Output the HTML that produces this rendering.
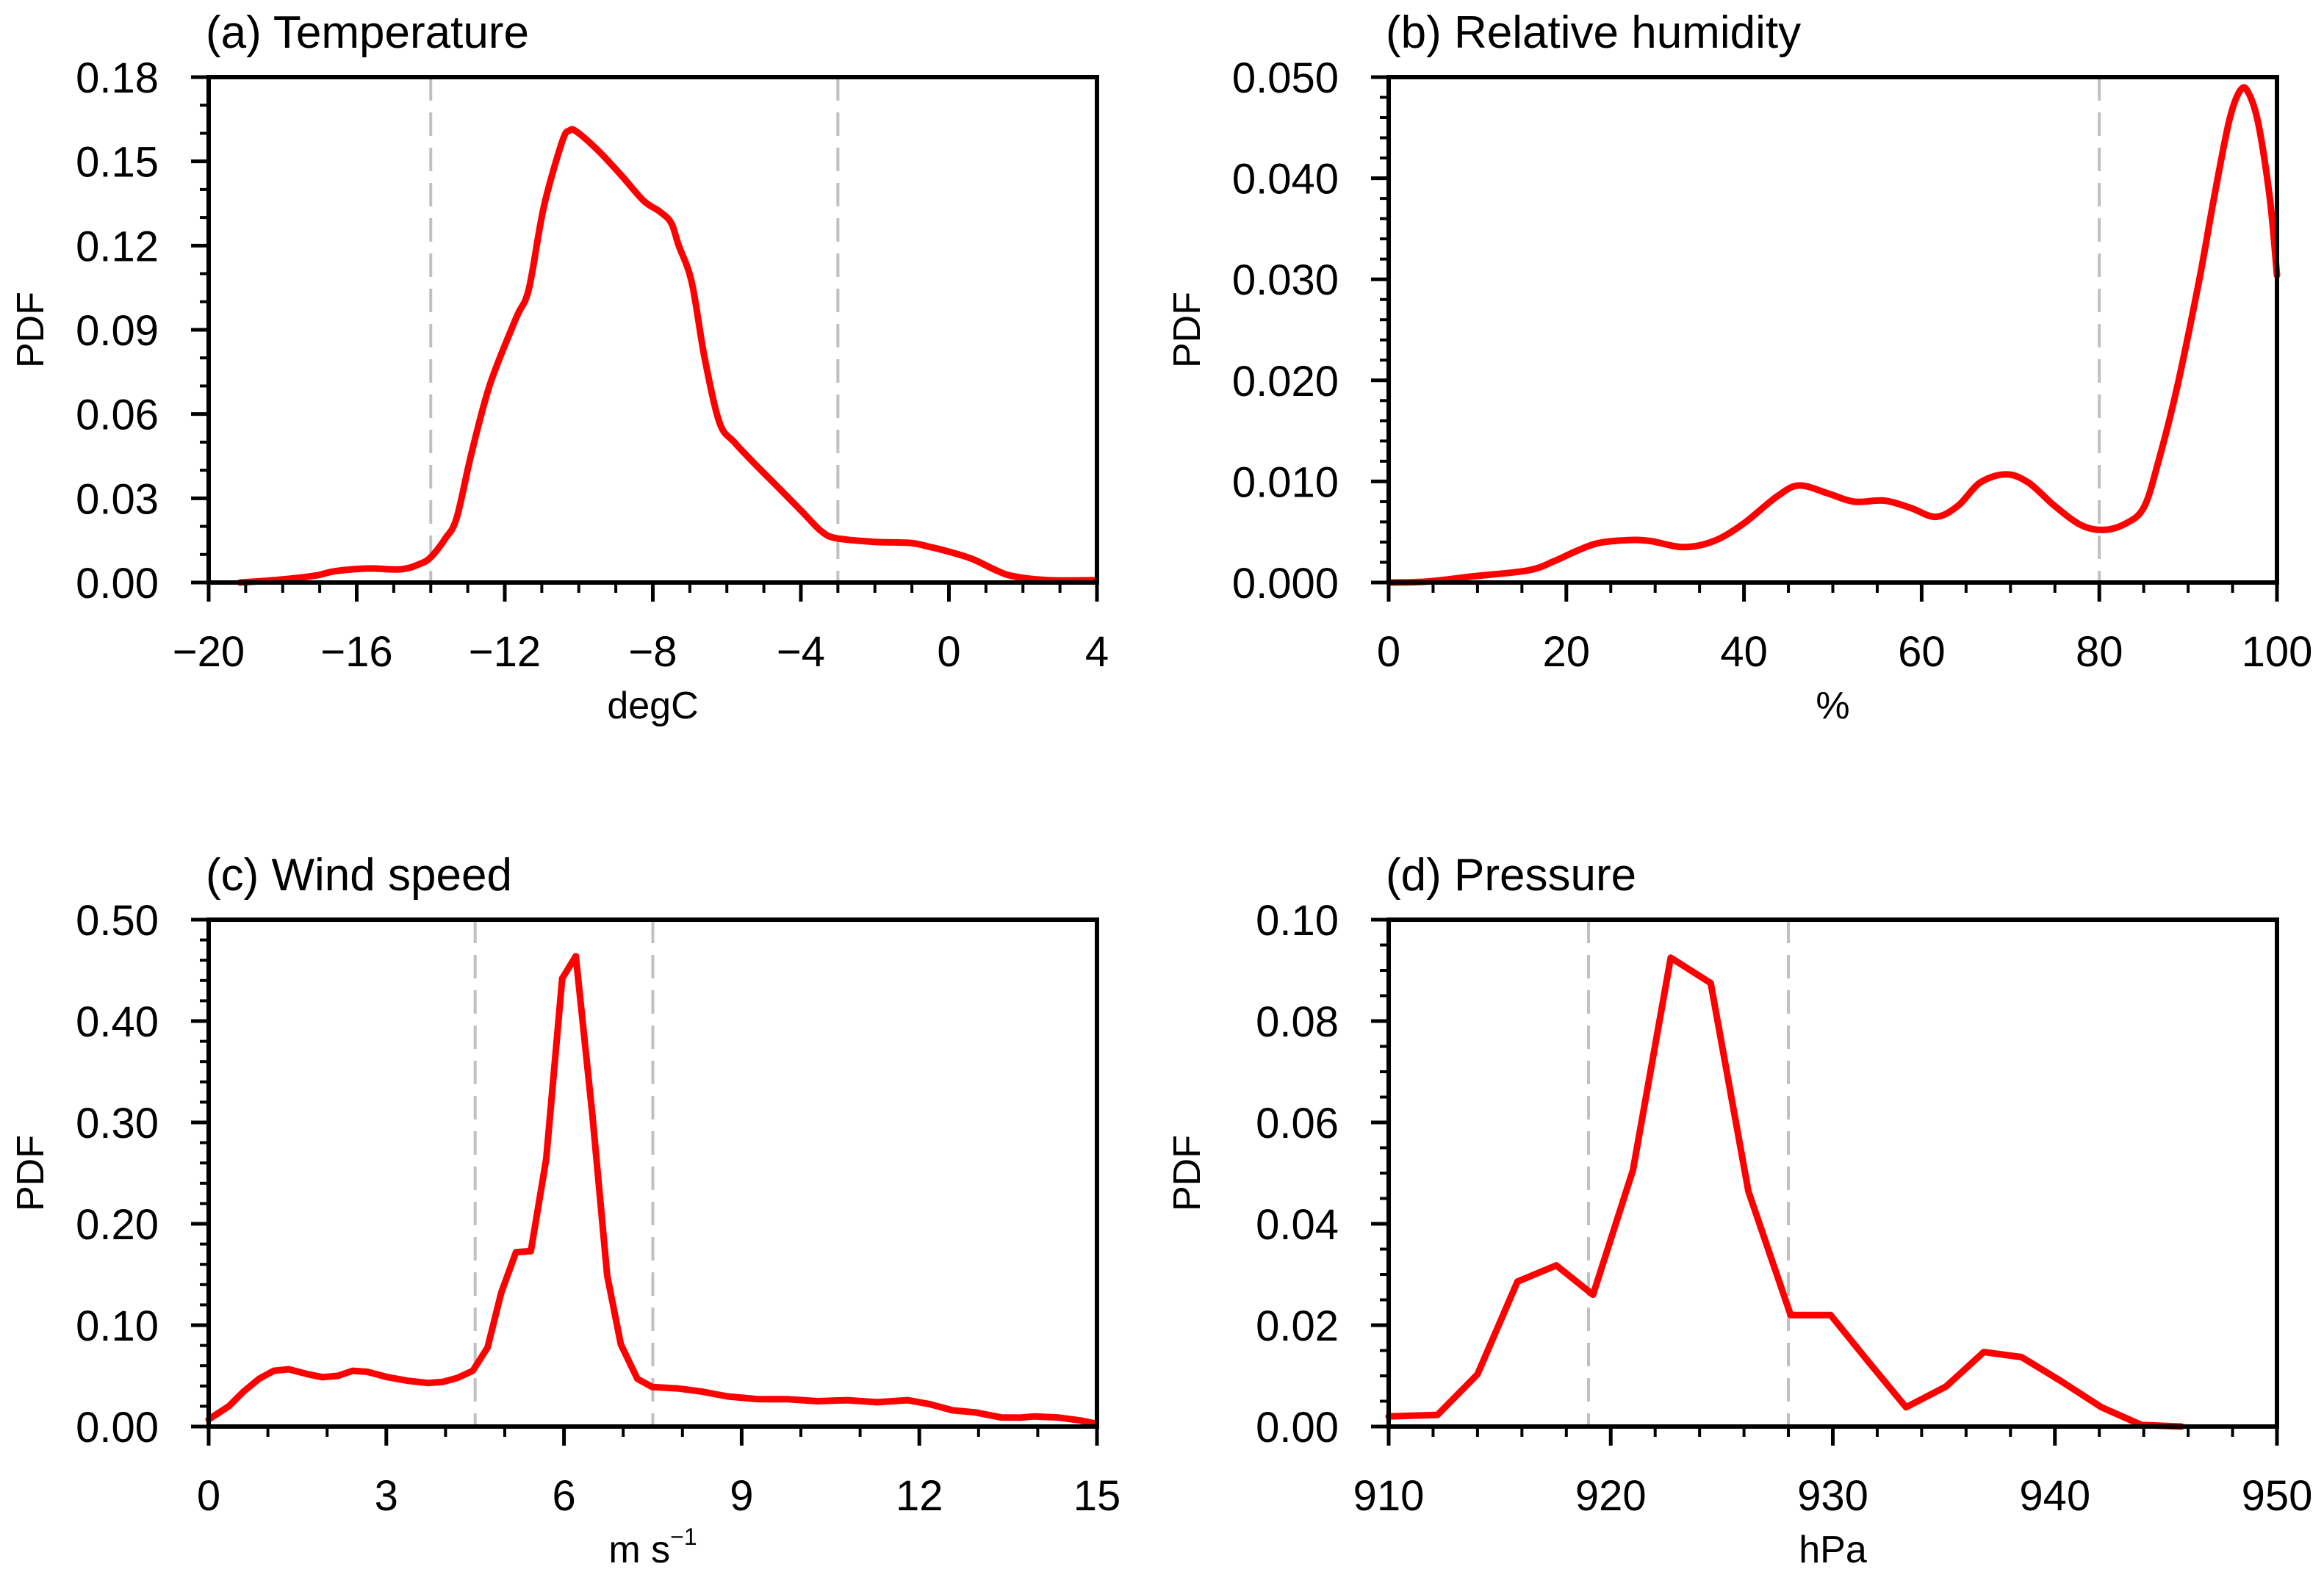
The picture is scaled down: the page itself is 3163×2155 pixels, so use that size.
<!DOCTYPE html>
<html><head><meta charset="utf-8"><title>PDF panels</title>
<style>html,body{margin:0;padding:0;background:#fff;}svg{display:block;font-family:"Liberation Sans",Arial,sans-serif;}</style>
</head><body>
<svg id="fig" width="3163" height="2155" viewBox="0 0 3163 2155" xmlns="http://www.w3.org/2000/svg"></svg>
<script>
// Panel (a) Temperature
const tempX = [-19.15,-18.1,-17.1,-16.6,-15.7,-14.8,-14.3,-14.0,-13.6,-13.3,-12.9,-12.4,-11.7,-11.35,-10.95,-10.45,-10.25,-10.05,-9.45,-8.85,-8.25,-7.8,-7.5,-7.3,-6.95,-6.6,-6.2,-5.8,-5.3,-4.5,-3.95,-3.45,-3.05,-2.05,-1.05,-0.55,0.05,0.65,1.25,1.75,2.7,3.9];
const tempY = [0,0.001,0.0025,0.004,0.005,0.0047,0.0066,0.009,0.0158,0.023,0.046,0.0705,0.094,0.1045,0.1335,0.157,0.161,0.1605,0.1535,0.145,0.136,0.132,0.128,0.120,0.107,0.080,0.057,0.050,0.043,0.0324,0.025,0.0183,0.0158,0.0145,0.0141,0.0128,0.0108,0.0083,0.0045,0.0022,0.0008,0.0008];
const tempXTicks = [-20,-16,-12,-8,-4,0,4];
const tempXTickLabels = ["\u221220","\u221216","\u221212","\u22128","\u22124","0","4"];
const tempYTicks = [0,0.03,0.06,0.09,0.12,0.15,0.18];
const tempYTickLabels = ["0.00","0.03","0.06","0.09","0.12","0.15","0.18"];
const tempRefs = [-14,-3];
// Panel (b) Relative humidity
const rhX = [0.25,4.4,9.4,15.7,18.6,21.1,23.6,27,29.5,33.2,36.6,39.9,43.7,46.2,49.5,52.4,55.8,58.7,61.6,64.1,66.6,69.5,72,74.95,77.9,80.4,82.9,85,86.6,88.7,91.2,92.9,94.6,95.8,96.7,97.9,99.2,100];
const rhY = [0,0.0001,0.0006,0.0012,0.0021,0.0031,0.0039,0.0042,0.0041,0.0035,0.0041,0.0058,0.0085,0.0096,0.0088,0.008,0.0081,0.0074,0.0065,0.0076,0.0099,0.0107,0.0099,0.0076,0.0057,0.0052,0.0058,0.0074,0.0118,0.0191,0.0297,0.038,0.0456,0.0486,0.0486,0.0454,0.038,0.0304];
const rhXTicks = [0,20,40,60,80,100];
const rhXTickLabels = ["0","20","40","60","80","100"];
const rhYTicks = [0,0.01,0.02,0.03,0.04,0.05];
const rhYTickLabels = ["0.000","0.010","0.020","0.030","0.040","0.050"];
const rhRefs = [80];
// Panel (c) Wind speed
const wsX = [0,0.34,0.59,0.85,1.1,1.35,1.67,1.92,2.18,2.43,2.68,3.0,3.38,3.7,3.95,4.2,4.46,4.71,4.94,5.19,5.44,5.7,5.97,6.2,6.48,6.73,6.96,7.24,7.49,7.94,8.32,8.76,9.27,9.77,10.28,10.78,11.29,11.8,12.18,12.56,12.94,13.38,13.7,13.95,14.33,14.72,14.97];
const wsY = [0.007,0.02,0.0346,0.047,0.055,0.0565,0.0517,0.0487,0.050,0.055,0.054,0.049,0.045,0.043,0.044,0.048,0.055,0.078,0.132,0.172,0.173,0.264,0.442,0.464,0.307,0.149,0.081,0.047,0.039,0.0375,0.0346,0.0297,0.027,0.027,0.025,0.026,0.024,0.026,0.022,0.016,0.014,0.009,0.0088,0.010,0.009,0.006,0.003];
const wsXTicks = [0,3,6,9,12,15];
const wsXTickLabels = ["0","3","6","9","12","15"];
const wsYTicks = [0,0.1,0.2,0.3,0.4,0.5];
const wsYTickLabels = ["0.00","0.10","0.20","0.30","0.40","0.50"];
const wsRefs = [4.5,7.5];
// Panel (d) Pressure
const pX = [910,912.2,914,915.8,917.55,919.2,921.0,922.7,924.5,926.2,928.1,929.9,931.6,933.3,935.1,936.8,938.5,940.3,942.1,943.9,945.7];
const pY = [0.002,0.0023,0.0103,0.0286,0.0318,0.026,0.0506,0.0925,0.0875,0.0464,0.022,0.022,0.0128,0.0038,0.0079,0.0147,0.0137,0.0089,0.0038,0.0003,0];
const pXTicks = [910,920,930,940,950];
const pXTickLabels = ["910","920","930","940","950"];
const pYTicks = [0,0.02,0.04,0.06,0.08,0.1];
const pYTickLabels = ["0.00","0.02","0.04","0.06","0.08","0.10"];
const pRefs = [919,928];

const NS = "http://www.w3.org/2000/svg";
const svg = document.getElementById("fig");
function mk(tag, attrs, parent){
  const e = document.createElementNS(NS, tag);
  for (const k in attrs) e.setAttribute(k, attrs[k]);
  (parent||svg).appendChild(e);
  return e;
}
function smoothPath(pts){
  let d = "M"+pts[0][0].toFixed(1)+","+pts[0][1].toFixed(1);
  for (let i=0;i<pts.length-1;i++){
    const p0=pts[Math.max(0,i-1)],p1=pts[i],p2=pts[i+1],p3=pts[Math.min(pts.length-1,i+2)];
    const c1x=p1[0]+(p2[0]-p0[0])/6,c1y=p1[1]+(p2[1]-p0[1])/6;
    const c2x=p2[0]-(p3[0]-p1[0])/6,c2y=p2[1]-(p3[1]-p1[1])/6;
    d+=` C${c1x.toFixed(1)},${c1y.toFixed(1)} ${c2x.toFixed(1)},${c2y.toFixed(1)} ${p2[0].toFixed(1)},${p2[1].toFixed(1)}`;
  }
  return d;
}
function panel(cfg){
  const g = mk("g", {});
  
  
  const L=cfg.L,R=cfg.R,T=cfg.T,B=cfg.B;
  const xs = v => L + (v-cfg.xmin)/(cfg.xmax-cfg.xmin)*(R-L);
  const ys = v => B - (v-cfg.ymin)/(cfg.ymax-cfg.ymin)*(B-T);
  cfg.refs.forEach(r=>{
    const l = mk("line",{x1:xs(r),x2:xs(r),y1:T,y2:B,stroke:"#c0c0c0","stroke-width":4,"stroke-dasharray":"32,16"},g);
    
    
  });
  const pts = cfg.x.map((v,i)=>[xs(v),ys(cfg.y[i])]);
  let d = cfg.smooth ? smoothPath(pts) : pts.map((p,i)=>(i?"L":"M")+p[0].toFixed(1)+","+p[1].toFixed(1)).join(" ");
  const p = mk("path",{d:d,fill:"none",stroke:"#ff0000","stroke-width":9,"stroke-linejoin":"round","stroke-linecap":"round"},g);
  
  
  for (let v=cfg.xmin; v<=cfg.xmax+1e-9; v+=cfg.xminor){
    mk("line",{x1:xs(v),x2:xs(v),y1:B,y2:B+14,stroke:"#000","stroke-width":4},g);
  }
  for (let v=cfg.ymin; v<=cfg.ymax+1e-9; v+=cfg.yminor){
    mk("line",{x1:L,x2:L-12,y1:ys(v),y2:ys(v),stroke:"#000","stroke-width":4},g);
  }
  cfg.xt.forEach((v,i)=>{
    mk("line",{x1:xs(v),x2:xs(v),y1:B,y2:B+26,stroke:"#000","stroke-width":5},g);
    const t = mk("text",{x:xs(v),y:B+114,"text-anchor":"middle","font-size":58,fill:"#000"},g);
    t.textContent = cfg.xtl[i];
    
    
  });
  cfg.yt.forEach((v,i)=>{
    mk("line",{x1:L,x2:L-24,y1:ys(v),y2:ys(v),stroke:"#000","stroke-width":5},g);
    const t = mk("text",{x:L-68,y:ys(v)+21,"text-anchor":"end","font-size":58,fill:"#000"},g);
    t.textContent = cfg.ytl[i];
    
    
  });
  const fr = mk("rect",{x:L,y:T,width:R-L,height:B-T,fill:"none",stroke:"#000","stroke-width":6},g);
  
  
  const ti = mk("text",{x:L-4,y:T-40,"font-size":62,fill:"#000"},g);
  ti.textContent = cfg.title;
  
  
  const cy=(T+B)/2;
  const yl = mk("text",{x:cfg.ylx,y:cy,"text-anchor":"middle","font-size":52,fill:"#000",transform:`rotate(-90 ${cfg.ylx} ${cy})`,"dominant-baseline":"central"},g);
  yl.textContent = "PDF";
  
  
  const xl = mk("text",{x:(L+R)/2,y:B+185,"text-anchor":"middle","font-size":52,fill:"#000"},g);
  if (cfg.xlabelSup){
    xl.textContent = cfg.xlabel;
    const s = mk("tspan",{"font-size":32,dy:-24},xl);
    s.textContent = cfg.xlabelSup;
  } else xl.textContent = cfg.xlabel;
  
  
}
panel({name:"panel-a-temperature",title:"(a) Temperature",L:284,R:1493,T:105,B:793,xmin:-20,xmax:4,ymin:0,ymax:0.18,xminor:1,yminor:0.01,x:tempX,y:tempY,xt:tempXTicks,xtl:tempXTickLabels,yt:tempYTicks,ytl:tempYTickLabels,refs:tempRefs,ylx:42,xlabel:"degC",smooth:true});
panel({name:"panel-b-humidity",title:"(b) Relative humidity",L:1890,R:3099,T:105,B:793,xmin:0,xmax:100,ymin:0,ymax:0.05,xminor:5,yminor:0.002,x:rhX,y:rhY,xt:rhXTicks,xtl:rhXTickLabels,yt:rhYTicks,ytl:rhYTickLabels,refs:rhRefs,ylx:1616,xlabel:"%",smooth:true});
panel({name:"panel-c-wind",title:"(c) Wind speed",L:284,R:1493,T:1252,B:1942,xmin:0,xmax:15,ymin:0,ymax:0.5,xminor:1,yminor:0.02,x:wsX,y:wsY,xt:wsXTicks,xtl:wsXTickLabels,yt:wsYTicks,ytl:wsYTickLabels,refs:wsRefs,ylx:42,xlabel:"m s",xlabelSup:"\u22121"});
panel({name:"panel-d-pressure",title:"(d) Pressure",L:1890,R:3099,T:1252,B:1942,xmin:910,xmax:950,ymin:0,ymax:0.1,xminor:2,yminor:0.005,x:pX,y:pY,xt:pXTicks,xtl:pXTickLabels,yt:pYTicks,ytl:pYTickLabels,refs:pRefs,ylx:1616,xlabel:"hPa"});
</script>
</body></html>
